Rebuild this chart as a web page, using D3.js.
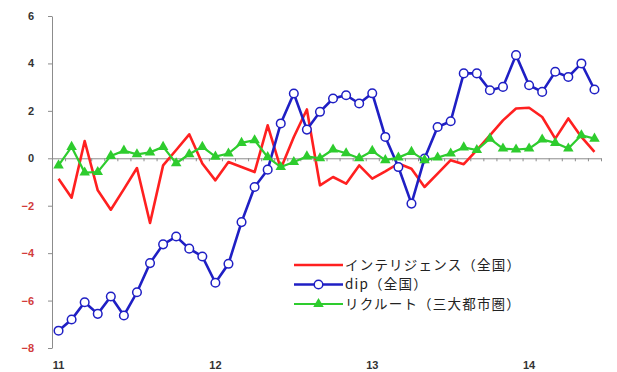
<!DOCTYPE html>
<html>
<head>
<meta charset="utf-8">
<script src="https://cdn.jsdelivr.net/npm/d3@7"></script>
<style>
  body { margin: 0; background: #fff; }
  svg { display: block; }
  .axis path, .axis line { stroke: #8c8c8c; }
  .axis text { font-family: "Liberation Sans", Arial, sans-serif; font-size: 11px; }
</style>
</head>
<body>
<div id="viz"></div>
<script>
// 月次の前年比などの推移（2011年1月〜2014年6月）
var yearLabels = ["11", "12", "13", "14"];
var yearIndex = [0, 12, 24, 36];
var seriesNames = ["インテリジェンス（全国）", "dip（全国）", "リクルート（三大都市圏）"];

var intelligence = [-0.86, -1.66, 0.73, -1.35, -2.17, -1.30, -0.41, -2.73, -0.30, 0.35, 1.01, -0.22,
  -0.93, -0.16, -0.37, -0.58, 1.39, -0.44, 0.90, 2.06, -1.14, -0.79, -1.07, -0.30,
  -0.86, -0.55, -0.22, -0.44, -1.21, -0.65, -0.08, -0.25, 0.34, 0.97, 1.60, 2.10,
  2.13, 1.74, 0.83, 1.68, 0.90, 0.27];

var dip = [-7.27, -6.80, -6.07, -6.56, -5.83, -6.63, -5.65, -4.42, -3.63, -3.30, -3.81, -4.14,
  -5.25, -4.45, -2.69, -1.21, -0.48, 1.47, 2.73, 1.21, 1.96, 2.52, 2.66, 2.31,
  2.74, 0.90, -0.37, -1.91, -0.01, 1.32, 1.56, 3.58, 3.58, 2.87, 3.01, 4.35,
  3.08, 2.80, 3.65, 3.43, 4.00, 2.90];

var recruit = [-0.30, 0.48, -0.60, -0.58, 0.10, 0.32, 0.17, 0.25, 0.48, -0.21, 0.17, 0.48,
  0.07, 0.20, 0.65, 0.76, 0.05, -0.37, -0.16, 0.08, 0.00, 0.37, 0.21, 0.00,
  0.31, -0.08, 0.03, 0.27, -0.08, 0.03, 0.20, 0.46, 0.35, 0.83, 0.41, 0.37,
  0.41, 0.79, 0.65, 0.41, 0.97, 0.83];

var yTicks = [-8, -6, -4, -2, 0, 2, 4, 6];

(function () {
  var width = 617, height = 372;
  var plotLeft = 52, plotRight = 601, plotTop = 16, plotBottom = 348;

  var colors = ['#ff2020', '#1f1fc4', '#2ecc2e'];

  var svg = d3.select("#viz")
    .append("svg")
    .attr("width", width)
    .attr("height", height);

  var n = dip.length;
  var x = d3.scaleBand()
    .domain(d3.range(n))
    .range([plotLeft, plotRight]);

  // bords entre les mois, pour les petites graduations
  var xEdge = d3.scaleLinear()
    .domain([0, n])
    .range([plotLeft, plotRight]);

  var y = d3.scaleLinear()
    .domain([-8, 6])
    .range([plotBottom, plotTop]);

  function cx(i){ return x(i) + x.bandwidth() / 2; }

  // y axis
  var yAxis = svg.append("g")
    .attr("class", "axis")
    .attr("transform", "translate(" + plotLeft + ",0)")
    .call(d3.axisLeft(y).tickValues(yTicks).tickSize(4).tickSizeOuter(0).tickPadding(14).tickFormat(d3.format("d")));
  yAxis.selectAll("text")
    .attr("fill", function(d){ return d < 0 ? '#d23c3c' : '#333'; })
    .attr("font-weight", "bold");

  // category axis crossing at 0
  svg.append("g")
    .attr("class", "axis")
    .attr("transform", "translate(0," + y(0) + ")")
    .call(d3.axisBottom(xEdge).tickValues(d3.range(0, n + 1)).tickSize(3).tickSizeOuter(0).tickFormat(""));

  // year labels at the bottom
  svg.append("g")
    .selectAll("text")
    .data(yearLabels)
    .enter().append("text")
    .attr("x", function(d, i){ return cx(yearIndex[i]); })
    .attr("y", 369)
    .attr("text-anchor", "middle")
    .attr("font-family", "Liberation Sans, Arial, sans-serif")
    .attr("font-size", 11)
    .attr("font-weight", "bold")
    .attr("fill", "#333")
    .text(function(d){ return d; });

  var line = d3.line()
    .x(function(d, i){ return cx(i); })
    .y(function(d){ return y(d); });

  // インテリジェンス
  svg.append("path")
    .datum(intelligence)
    .attr("fill", "none")
    .attr("stroke", colors[0])
    .attr("stroke-width", 2.6)
    .attr("stroke-linejoin", "round")
    .attr("d", line);

  // dip
  svg.append("path")
    .datum(dip)
    .attr("fill", "none")
    .attr("stroke", colors[1])
    .attr("stroke-width", 2.6)
    .attr("d", line);

  svg.append("g")
    .selectAll("circle")
    .data(dip)
    .enter().append("circle")
    .attr("cx", function(d, i){ return cx(i); })
    .attr("cy", function(d){ return y(d); })
    .attr("r", 4.3)
    .attr("fill", "#fff")
    .attr("stroke", colors[1])
    .attr("stroke-width", 1.5);

  // リクルート
  svg.append("path")
    .datum(recruit)
    .attr("fill", "none")
    .attr("stroke", colors[2])
    .attr("stroke-width", 2.2)
    .attr("d", line);

  var tri = d3.symbol().type(d3.symbolTriangle).size(48);
  svg.append("g")
    .selectAll("path")
    .data(recruit)
    .enter().append("path")
    .attr("d", tri)
    .attr("transform", function(d, i){ return "translate(" + cx(i) + "," + y(d) + ")"; })
    .attr("fill", colors[2]);

  // legend
  var legend = svg.append("g")
    .attr("transform", "translate(294,265)");

  var rows = legend.selectAll("g")
    .data(seriesNames)
    .enter().append("g")
    .attr("transform", function(d, i){ return "translate(0," + (i * 19.5) + ")"; });

  rows.append("line")
    .attr("x1", 0).attr("x2", 49)
    .attr("stroke", function(d, i){ return colors[i]; })
    .attr("stroke-width", function(d, i){ return i == 2 ? 2.2 : 2.6; });

  rows.filter(function(d, i){ return i == 1; })
    .append("circle")
    .attr("cx", 24.5).attr("r", 4.3)
    .attr("fill", "#fff")
    .attr("stroke", colors[1])
    .attr("stroke-width", 1.5);

  rows.filter(function(d, i){ return i == 2; })
    .append("path")
    .attr("d", tri)
    .attr("transform", "translate(24.5,0)")
    .attr("fill", colors[2]);

  rows.append("text")
    .attr("x", 51)
    .attr("dy", "0.36em")
    .attr("font-family", "Noto Sans CJK JP, sans-serif")
    .attr("font-size", 13.5)
    .attr("letter-spacing", 1.2)
    .attr("fill", "#222")
    .text(function(d){ return d; });
})();
</script>
</body>
</html>
